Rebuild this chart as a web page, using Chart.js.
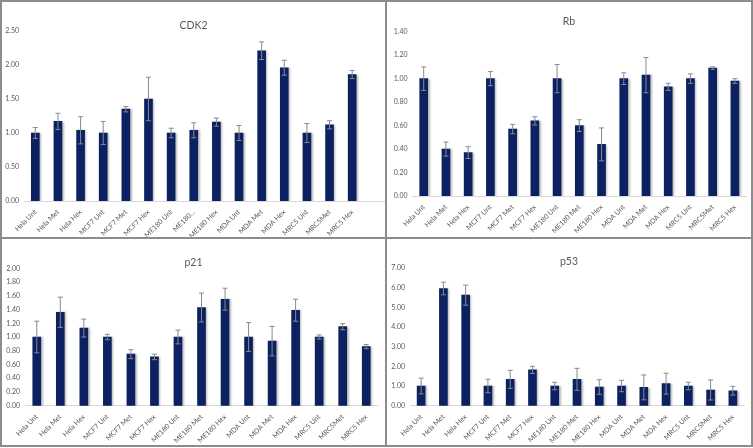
<!DOCTYPE html>
<html>
<head>
<meta charset="utf-8">
<script src="https://cdn.jsdelivr.net/npm/chart.js@4.4.1/dist/chart.umd.min.js"></script>
<style>
  body { margin: 0; background: #fff; }
  #frame { position: relative; width: 753px; height: 448px; overflow: hidden; background: #fff; }
  .panel { position: absolute; }
  .rule { position: absolute; background: #8c8c8c; }
</style>
</head>
<body>
<div id="frame">
  <div class="panel" style="left:2px;top:2px;width:383px;height:235px"><canvas id="cdk2Chart"></canvas></div>
  <div class="panel" style="left:387px;top:2px;width:364px;height:235px"><canvas id="rbChart"></canvas></div>
  <div class="panel" style="left:2px;top:239px;width:383px;height:206px"><canvas id="p21Chart"></canvas></div>
  <div class="panel" style="left:387px;top:239px;width:364px;height:206px"><canvas id="p53Chart"></canvas></div>

  <div class="rule" style="left:0;top:0;width:753px;height:2px"></div>
  <div class="rule" style="left:0;top:445px;width:753px;height:2px"></div>
  <div class="rule" style="left:0;top:0;width:2px;height:447px"></div>
  <div class="rule" style="left:751px;top:0;width:2px;height:447px"></div>
  <div class="rule" style="left:385px;top:0;width:2px;height:447px"></div>
  <div class="rule" style="left:0;top:237px;width:753px;height:2px"></div>
</div>

<script>
const cellLines = [
  "Hela Unt", "Hela Met", "Hela Hex", "MCF7 Unt", "MCF7 Met", "MCF7 Hex",
  "ME180 Unt", "ME180 Met", "ME180 Hex", "MDA Unt", "MDA Met", "MDA Hex",
  "MRC5 Unt", "MRC5Met", "MRC5 Hex",
];
const cdk2Labels = cellLines.map((l, i) => (i === 7 ? "ME180..." : l));

const cdk2Values = [1.00, 1.17, 1.04, 1.00, 1.35, 1.50, 1.00, 1.04, 1.16, 1.00, 2.21, 1.96, 1.00, 1.12, 1.86];
const cdk2Errors = [0.08, 0.12, 0.20, 0.17, 0.04, 0.32, 0.07, 0.11, 0.06, 0.11, 0.13, 0.11, 0.14, 0.06, 0.06];

const rbValues = [1.00, 0.40, 0.37, 1.00, 0.57, 0.64, 1.00, 0.60, 0.44, 1.00, 1.03, 0.93, 1.00, 1.09, 0.98];
const rbErrors = [0.10, 0.06, 0.05, 0.06, 0.04, 0.035, 0.12, 0.05, 0.14, 0.05, 0.15, 0.03, 0.04, 0.01, 0.02];

const p21Values = [1.00, 1.36, 1.13, 1.00, 0.75, 0.71, 1.00, 1.43, 1.55, 1.00, 0.94, 1.39, 1.00, 1.15, 0.86];
const p21Errors = [0.23, 0.22, 0.13, 0.04, 0.065, 0.04, 0.10, 0.21, 0.16, 0.21, 0.215, 0.16, 0.03, 0.045, 0.03];

const p53Values = [1.00, 5.96, 5.62, 1.00, 1.34, 1.82, 1.00, 1.34, 0.95, 1.00, 0.93, 1.12, 1.00, 0.80, 0.76];
const p53Errors = [0.40, 0.32, 0.51, 0.34, 0.46, 0.18, 0.19, 0.56, 0.37, 0.29, 0.63, 0.53, 0.19, 0.51, 0.22];

const FONT = "Lato, 'Open Sans', sans-serif";
const TEXT = "#595959";
const BAR = "#0b2161";

// shadow behind bars, like the excel look
const barShadow = {
  id: "barShadow",
  beforeDatasetsDraw(chart) {
    const ctx = chart.ctx;
    ctx.save();
    ctx.shadowColor = "rgba(0,0,0,0.28)";
    ctx.shadowBlur = 2;
    ctx.shadowOffsetX = 1.5;
    ctx.shadowOffsetY = 0.5;
  },
  afterDatasetsDraw(chart) {
    chart.ctx.restore();
  },
};

const errorBars = {
  id: "errorBars",
  afterDatasetsDraw(chart) {
    const ctx = chart.ctx;
    const y = chart.scales.y;
    chart.data.datasets.forEach((ds, di) => {
      const meta = chart.getDatasetMeta(di);
      meta.data.forEach((bar, i) => {
        const v = ds.data[i], e = ds.errors[i];
        const top = y.getPixelForValue(v + e);
        const bot = y.getPixelForValue(v - e);
        ctx.save();
        ctx.strokeStyle = "#8a8a8a";
        ctx.lineWidth = 1;
        ctx.beginPath();
        ctx.moveTo(bar.x, top); ctx.lineTo(bar.x, bot);
        ctx.moveTo(bar.x - 2.5, top); ctx.lineTo(bar.x + 2.5, top);
        ctx.moveTo(bar.x - 2.5, bot); ctx.lineTo(bar.x + 2.5, bot);
        ctx.stroke();
        ctx.restore();
      });
    });
  },
};

// title sits over the top of the plot area, plus optional long baseline
const panelDeco = {
  id: "panelDeco",
  afterDraw(chart, args, opts) {
    const ctx = chart.ctx;
    ctx.save();
    ctx.fillStyle = TEXT;
    ctx.font = "10.5px " + FONT;
    ctx.textAlign = "center";
    ctx.textBaseline = "middle";
    ctx.fillText(opts.text, chart.width / 2, opts.titleY);
    if (opts.extendBase) {
      const y0 = chart.scales.y.getPixelForValue(0);
      ctx.strokeStyle = "#d9d9d9";
      ctx.lineWidth = 1;
      ctx.beginPath();
      ctx.moveTo(chart.chartArea.right, y0 + 0.5);
      ctx.lineTo(chart.width, y0 + 0.5);
      ctx.stroke();
    }
    ctx.restore();
  },
};

function makeChart(id, title, labels, values, errors, box) {
  const ctx = document.getElementById(id).getContext("2d");
  return new Chart(ctx, {
    type: "bar",
    data: {
      labels: labels,
      datasets: [{
        label: title,
        data: values,
        errors: errors,
        backgroundColor: BAR,
        barThickness: 8,
      }],
    },
    options: {
      responsive: true,
      maintainAspectRatio: false,
      animation: false,
      layout: { padding: { top: box.top, right: box.right, left: 0, bottom: 0 } },
      plugins: {
        legend: { display: false },
        tooltip: { enabled: false },
        panelDeco: { text: title, titleY: box.titleY, extendBase: !!box.extendBase },
      },
      scales: {
        y: {
          min: 0,
          max: box.max,
          ticks: {
            stepSize: box.step,
            color: TEXT,
            padding: 5,
            font: { size: 7, family: FONT },
            callback: (v) => Number(v).toFixed(2),
          },
          grid: { display: false, drawTicks: false },
          border: { display: false },
          afterFit: (s) => { s.width = box.left; },
        },
        x: {
          ticks: {
            color: TEXT,
            autoSkip: false,
            maxRotation: 45,
            minRotation: 45,
            padding: 7,
            font: { size: 7, family: FONT },
          },
          grid: { display: false, drawTicks: false },
          border: { display: true, color: "#d9d9d9" },
          afterFit: (s) => { s.height = box.xh; },
        },
      },
    },
    plugins: [barShadow, errorBars, panelDeco],
  });
}

makeChart("cdk2Chart", "CDK2", cdk2Labels, cdk2Values, cdk2Errors,
  { left: 22, right: 21.5, top: 29, xh: 36, max: 2.5, step: 0.5, titleY: 24, extendBase: true });
makeChart("rbChart", "Rb", cellLines, rbValues, rbErrors,
  { left: 25.6, right: 5, top: 29.7, xh: 41, max: 1.4, step: 0.2, titleY: 20 });
makeChart("p21Chart", "p21", cellLines, p21Values, p21Errors,
  { left: 23, right: 7, top: 29.3, xh: 39.3, max: 2.0, step: 0.2, titleY: 24 });
makeChart("p53Chart", "p53", cellLines, p53Values, p53Errors,
  { left: 23, right: 7, top: 29, xh: 39.3, max: 7, step: 1, titleY: 22.7 });
</script>
</body>
</html>
